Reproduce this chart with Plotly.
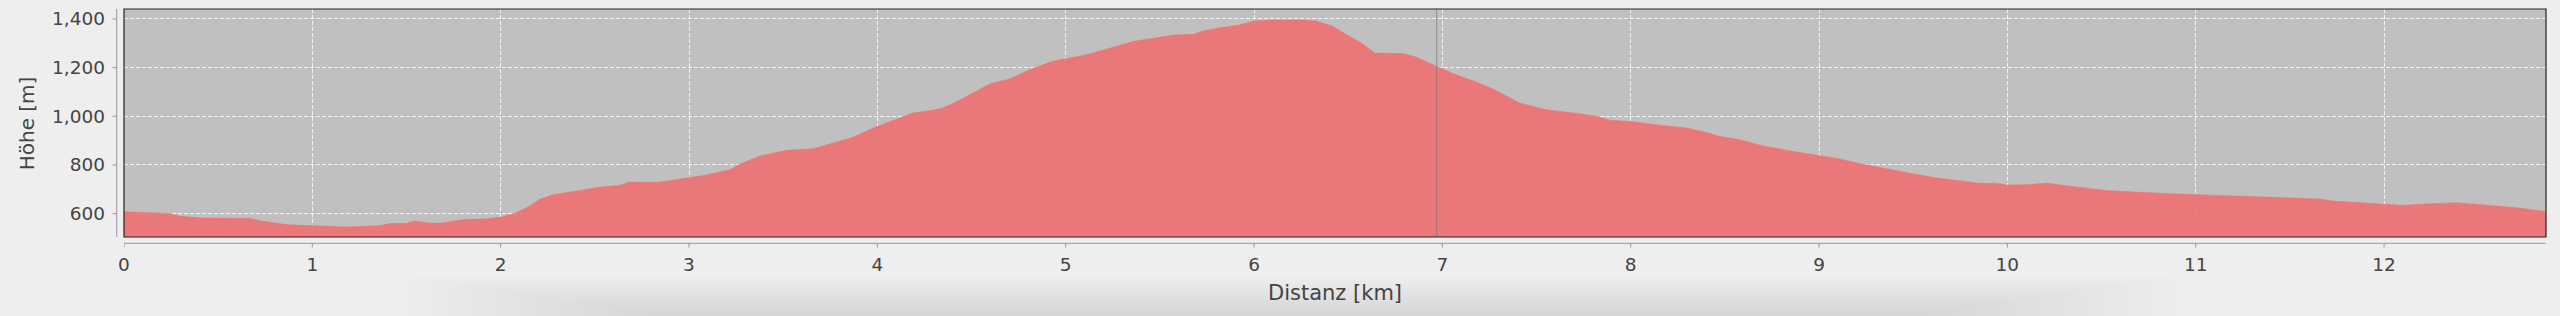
import plotly.graph_objects as go

# Elevation profile
distance_km = [0, 0.24, 0.30, 0.42, 0.67, 0.72, 0.86, 1.0, 1.18, 1.36, 1.41, 1.50, 1.54, 1.62, 1.68,
               1.75, 1.82, 1.92, 2.0, 2.07, 2.14, 2.21, 2.28, 2.37, 2.46, 2.54, 2.63, 2.68, 2.84, 3.0,
               3.09, 3.22, 3.27, 3.38, 3.52, 3.66, 3.78, 3.87, 4.0, 4.10, 4.19, 4.33, 4.40, 4.49, 4.60,
               4.70, 4.81, 4.93, 5.0, 5.11, 5.22, 5.36, 5.50, 5.57, 5.68, 5.73, 5.82, 5.92, 6.0, 6.10,
               6.26, 6.33, 6.42, 6.49, 6.57, 6.64, 6.79, 6.86, 6.97, 7.06, 7.18, 7.27, 7.41, 7.55, 7.73,
               7.82, 7.89, 8.0, 8.17, 8.30, 8.40, 8.47, 8.58, 8.70, 8.86, 9.0, 9.11, 9.22, 9.36, 9.50,
               9.62, 9.75, 9.85, 9.94, 10.0, 10.10, 10.21, 10.31, 10.42, 10.53, 10.70, 10.77, 11.0, 11.18,
               11.39, 11.66, 11.73, 11.87, 12.0, 12.10, 12.22, 12.38, 12.52, 12.72, 12.86]
elevation_m = [608, 601, 589, 582, 581, 571, 555, 551, 545, 551, 559, 560, 570, 562, 560,
               570, 577, 578, 586, 600, 625, 660, 678, 689, 701, 710, 716, 730, 729, 747,
               759, 781, 804, 838, 860, 867, 893, 914, 959, 989, 1014, 1030, 1052, 1089, 1134,
               1153, 1192, 1226, 1237, 1253, 1277, 1308, 1325, 1334, 1337, 1352, 1364, 1375, 1392, 1396,
               1396, 1392, 1370, 1336, 1301, 1260, 1258, 1244, 1205, 1175, 1141, 1112, 1055, 1027, 1011,
               1000, 984, 979, 962, 952, 934, 918, 904, 879, 856, 840, 825, 805, 786, 764,
               747, 733, 725, 725, 718, 719, 726, 715, 705, 695, 688, 685, 678, 674,
               667, 660, 652, 644, 638, 634, 640, 645, 637, 623, 608]

x_ticks = list(range(0, 13))
y_ticks = [600, 800, 1000, 1200, 1400]
marker_km = 6.97
x_title = "Distanz [km]"
y_title = "Höhe [m]"

W, H = 2560, 316
ML, MR, MT, MB = 124, 14, 9, 79
PW, PH = W - ML - MR, H - MT - MB
XR = [0, 12.86]
YR = [504, 1441]

def px_x(p):  # pixel -> paper x
    return (p - ML) / PW

def px_y(p):  # pixel -> paper y
    return (H - MB - p) / PH

text_col = "#444444"
font_family = "DejaVu Sans, Lucida Grande, sans-serif"

fig = go.Figure()
fig.add_trace(go.Scatter(
    x=distance_km, y=elevation_m, mode="lines",
    line=dict(color="rgba(238,112,112,0.9)", width=0.5),
    fill="tozeroy", fillcolor="rgba(238,112,112,0.9)",
    hoverinfo="skip", showlegend=False,
))

shapes = []
# soft shadow at the bottom of the page
n_steps = 24
for i in range(n_steps):
    shapes.append(dict(type="rect", xref="paper", yref="paper", layer="below",
                       x0=px_x(400 + i * 11), x1=px_x(2180 - i * 11),
                       y0=px_y(316), y1=px_y(276 + i * 1.6),
                       fillcolor="rgba(0,0,0,0.0055)", line=dict(width=0)))
# offset axis lines
shapes.append(dict(type="line", xref="paper", yref="paper", x0=0, x1=1,
                   y0=px_y(243.3), y1=px_y(243.3), line=dict(color="#999999", width=1)))
shapes.append(dict(type="line", xref="paper", yref="paper", x0=px_x(116.7), x1=px_x(116.7),
                   y0=0, y1=1, line=dict(color="#999999", width=1)))
for t in x_ticks:
    shapes.append(dict(type="line", xref="x", yref="paper", x0=t, x1=t,
                       y0=px_y(243.3), y1=px_y(247.5), line=dict(color="#999999", width=1)))
for t in y_ticks:
    shapes.append(dict(type="line", xref="paper", yref="y", x0=px_x(112.5), x1=px_x(116.7),
                       y0=t, y1=t, line=dict(color="#999999", width=1)))
# marker line
shapes.append(dict(type="line", xref="x", yref="paper", x0=marker_km, x1=marker_km,
                   y0=0, y1=1, line=dict(color="rgba(120,120,120,0.7)", width=1)))
# plot border
shapes.append(dict(type="rect", xref="paper", yref="paper", x0=0, x1=1, y0=0, y1=1,
                   line=dict(color="#222222", width=1.2)))

fig.update_layout(
    width=W, height=H, autosize=False,
    margin=dict(l=ML, r=MR, t=MT, b=MB, pad=0),
    paper_bgcolor="#eeeeee", plot_bgcolor="#c0c0c0",
    font=dict(family=font_family, color=text_col, size=18.5),
    shapes=shapes,
    annotations=[
        dict(text=x_title, xref="paper", yref="paper", x=0.5, y=px_y(293),
             xanchor="center", yanchor="middle", showarrow=False,
             font=dict(size=21, color=text_col, family=font_family)),
        dict(text=y_title, xref="paper", yref="paper", x=px_x(27.3), y=0.5,
             xanchor="center", yanchor="middle", showarrow=False, textangle=-90,
             font=dict(size=20, color=text_col, family=font_family)),
    ],
    xaxis=dict(range=XR, tickvals=x_ticks, ticks="", showline=False, zeroline=False,
               showgrid=True, gridcolor="rgba(255,255,255,0.8)", griddash="4px,2px", gridwidth=1,
               ticklabelstandoff=14, tickfont=dict(size=18.5, color=text_col)),
    yaxis=dict(range=YR, tickvals=y_ticks, tickformat=",d", ticks="", showline=False, zeroline=False,
               showgrid=True, gridcolor="rgba(255,255,255,0.8)", griddash="4px,2px", gridwidth=1,
               ticklabelstandoff=18, tickfont=dict(size=18.5, color=text_col)),
)

fig.write_html("out.html")
